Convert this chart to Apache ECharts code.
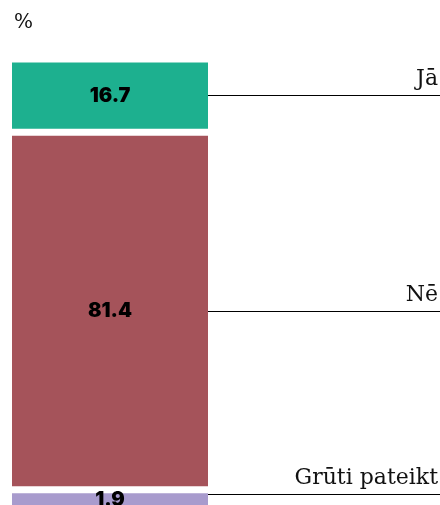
<!DOCTYPE html>
<html>
<head>
<meta charset="utf-8">
<style>
  html, body { margin: 0; padding: 0; background: #ffffff; }
  #chart { width: 440px; height: 505px; }
</style>
<script src="https://cdn.jsdelivr.net/npm/echarts@6/dist/echarts.min.js"></script>
</head>
<body>
<div id="chart"></div>
<script>
const categories = ['Jā', 'Nē', 'Grūti pateikt'];
const values = [16.7, 81.4, 1.9];
const unitLabel = '%';
const colors = ['#1db08f', '#a5535a', '#a89bcd'];

const chart = echarts.init(document.getElementById('chart'), null, { renderer: 'canvas' });

// cumulative midpoints for the leader lines
const mids = [];
let acc = 0;
values.forEach(v => { mids.push(acc + v / 2); acc += v; });

const barSeries = categories.map((name, i) => ({
  name: name,
  type: 'bar',
  stack: 'total',
  xAxisIndex: 0,
  yAxisIndex: 0,
  barWidth: '100%',
  clip: false,
  barMinHeight: i === categories.length - 1 ? 20 : 0,
  data: [values[i]],
  itemStyle: { color: colors[i], borderColor: '#ffffff', borderWidth: 3.5 },
  label: {
    show: true,
    position: 'inside',
    formatter: p => p.value.toFixed(1),
    color: '#000000',
    fontFamily: 'Inter',
    fontWeight: 900,
    fontSize: 20
  },
  emphasis: { disabled: true },
  animation: false
}));

const leaderSeries = {
  type: 'line',
  xAxisIndex: 1,
  yAxisIndex: 1,
  data: [],
  symbol: 'none',
  animation: false,
  markLine: {
    silent: true,
    symbol: ['none', 'none'],
    animation: false,
    lineStyle: { color: '#000000', width: 1, type: 'solid' },
    label: {
      show: true,
      position: 'insideEndTop',
      formatter: '{b}',
      color: '#111111',
      fontFamily: 'DejaVu Serif',
      fontSize: 22,
      distance: [2, 5]
    },
    data: categories.map((name, i) => ({ name: name, yAxis: mids[i] }))
  }
};

const yAxisBase = {
  type: 'value', min: 0, max: 100, inverse: true, show: false
};

chart.setOption({
  animation: false,
  backgroundColor: '#ffffff',
  title: {
    text: unitLabel,
    left: 9,
    top: 8,
    textStyle: { fontFamily: 'DejaVu Serif', fontWeight: 'normal', fontSize: 20, color: '#111111' }
  },
  grid: [
    { left: 8.5, width: 203, top: 59, height: 439 },
    { left: 208, right: 0, top: 59, height: 439 }
  ],
  xAxis: [
    { type: 'category', gridIndex: 0, data: [''], show: false },
    { type: 'value', gridIndex: 1, min: 0, max: 1, show: false }
  ],
  yAxis: [
    Object.assign({ gridIndex: 0 }, yAxisBase),
    Object.assign({ gridIndex: 1 }, yAxisBase)
  ],
  series: barSeries.concat([leaderSeries])
});
</script>
</body>
</html>
